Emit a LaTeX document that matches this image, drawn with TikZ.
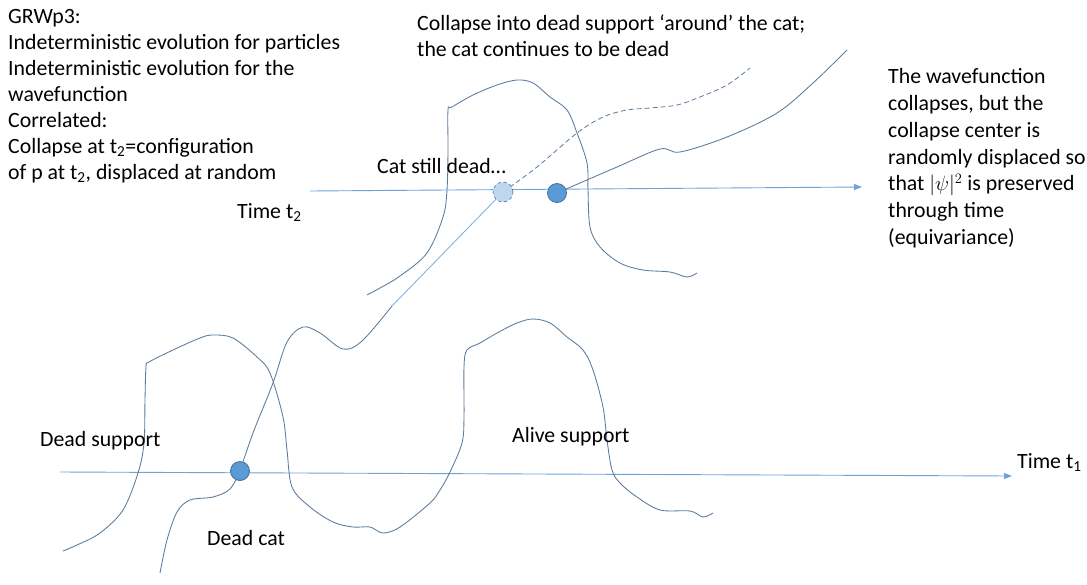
\documentclass[tikz,border=0pt]{standalone}
\usepackage{fontspec}
\setmainfont{Carlito}
\usetikzlibrary{arrows.meta}
\pgfdeclarelayer{bg}
\pgfsetlayers{bg,main}
\definecolor{curvecol}{HTML}{5B7A9C}
\definecolor{axiscol}{HTML}{6FA3D8}
\definecolor{lightline}{HTML}{86B2DE}
\definecolor{dotfill}{HTML}{5B9BD5}
\definecolor{dotedge}{HTML}{41719C}
\definecolor{ghostfill}{HTML}{BDD7EE}
\tikzset{
  curve/.style={draw=curvecol, line width=0.85pt},
  axis/.style={draw=axiscol, line width=0.9pt, -{Triangle[length=8pt,width=6pt]}},
  lbl/.style={anchor=base west, inner sep=0pt, font=\fontsize{21.8}{26}\selectfont, text=black},
  particle/.style={circle, fill=dotfill, draw=dotedge, line width=0.8pt, minimum size=19pt, inner sep=0pt},
  ghost/.style={circle, fill=ghostfill, draw=dotedge, dashed, line width=0.6pt, minimum size=20pt, inner sep=0pt},
}
\begin{document}
\begin{tikzpicture}[x=1pt,y=-1pt]
\begin{pgfonlayer}{bg}
\fill[white] (0,0) rectangle (1087,584);
\end{pgfonlayer}
\useasboundingbox (0,0) rectangle (1087,584);

% texts
\node[lbl, align=left, anchor=north west] (intro) at (8,9) {GRWp3:\\Indeterministic evolution for particles\\Indeterministic evolution for the\\wavefunction\\Correlated:\\Collapse at t\textsubscript{2}=configuration\\of p at t\textsubscript{2}, displaced at random};
\node[lbl, align=left, anchor=north west] (topnote) at (417,15) {Collapse into dead support ‘around’ the cat;\\the cat continues to be dead};
\node[lbl, align=left, anchor=north west, font=\fontsize{21.8}{26.9}\selectfont] (rightnote) at (888,68) {The wavefunction\\collapses, but the\\collapse center is\\randomly displaced so\\that $|\psi|^2$ is preserved\\through time\\(equivariance)};
\node[lbl] (catstill) at (377,173) {Cat still dead…};
\node[lbl] (t2lbl) at (237,218) {Time t\textsubscript{2}};
\node[lbl] (t1lbl) at (1017,468) {Time t\textsubscript{1}};
\node[lbl] (deadsup) at (40,446) {Dead support};
\node[lbl] (alivesup) at (512,442) {Alive support};
\node[lbl] (deadcat) at (207,545) {Dead cat};

% particles
\node[particle] (p1) at (240,471) {};
\node[ghost] (pg) at (503,192) {};
\node[particle] (p2) at (557,193) {};

\begin{pgfonlayer}{bg}
% axes
\coordinate (t2s) at (310,191);
\coordinate (t2e) at (862,187);
\coordinate (t1s) at (60,472);
\coordinate (t1e) at (1012,476);
\draw[axis] (t2s) -- (t2e);
\draw[axis] (t1s) -- (t1e);

% wavefunction supports at t1 (dead + alive)
\draw[curve] plot[smooth, tension=0.55] coordinates {
 (63,551) (77,545) (100,533) (123,510) (138,473) (144,443) (145,400) (146,367)
 (149,362) (173,350) (200,338) (213,335) (233,338) (257,357) (270,373) (283,417)
 (287,450) (292,487) (310,507) (333,522) (353,527) (370,527) (383,533) (400,527)
 (430,503) (440,490) (450,472) (462,443) (464,417) (464,367) (467,350) (480,343)
 (497,333) (517,323) (533,319) (550,323) (567,337) (583,350) (593,370) (603,407)
 (607,440) (612,470) (620,483) (637,497) (660,510) (690,511) (703,517) (713,513)};

% collapsed dead support at t2
\draw[curve] plot[smooth, tension=0.55] coordinates {
 (367,295) (380,288) (400,276) (427,253) (443,217) (447,190) (448,150) (448,110)
 (452,107) (473,95) (497,85) (517,80) (533,83) (550,97) (567,110) (577,133)
 (587,163) (588,190) (590,227) (600,247) (620,263) (643,270) (670,272) (687,277) (697,273)};

% cat trajectory
\coordinate (trajstart) at (160,573);
\coordinate (bend) at (392,306);
\coordinate (dashend) at (750,68);
\coordinate (solidend) at (847,50);
\draw[curve] plot[smooth, tension=0.55] coordinates {
 (trajstart) (167,540) (177,512) (190,500) (213,497) (230,489) (p1.center)};
\draw[curve] plot[smooth, tension=0.55] coordinates {
 (p1.center) (253,433) (273,383) (287,342) (303,327) (320,333) (343,349) (362,341) (bend)};
\draw[draw=lightline, line width=0.9pt] (bend) -- (pg.center);
\draw[curve, dash pattern=on 5pt off 3pt, line width=0.8pt] plot[smooth, tension=0.55] coordinates {
 (pg.center) (537,167) (577,133) (603,117) (627,110) (650,108) (677,105) (700,97) (727,85) (dashend)};
\draw[curve] plot[smooth, tension=0.55] coordinates {
 (p2.center) (617,167) (660,149) (680,152) (727,137) (777,113) (813,83) (solidend)};
\end{pgfonlayer}
\end{tikzpicture}
\end{document}
